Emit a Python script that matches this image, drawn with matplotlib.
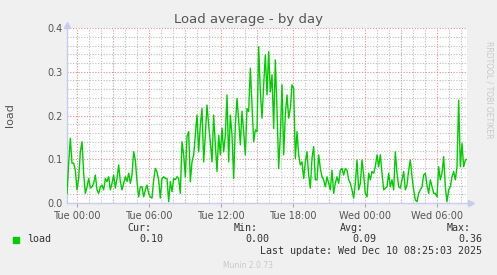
import numpy as np
import pandas as pd
import matplotlib
matplotlib.use("Agg")
import matplotlib.pyplot as plt
import matplotlib.dates as mdates

# load average, one reading every 500 s, Mon 23:10 -> Wed 08:30
load = [
    0.022, 0.09, 0.148, 0.091, 0.091, 0.075, 0.03, 0.056, 0.117, 0.14,
    0.068, 0.022, 0.037, 0.056, 0.034, 0.037, 0.045, 0.064, 0.03, 0.022,
    0.037, 0.041, 0.03, 0.056, 0.049, 0.06, 0.03, 0.045, 0.064, 0.034,
    0.056, 0.087, 0.049, 0.03, 0.045, 0.06, 0.049, 0.068, 0.045, 0.064,
    0.117, 0.098, 0.049, 0.014, 0.037, 0.037, 0.014, 0.03, 0.041, 0.022,
    0.014, 0.011, 0.053, 0.079, 0.071, 0.053, 0.011, 0.056, 0.06,
    # Tue ~07:20
    0.056, 0.056, 0.003, 0.049, 0.026, 0.056, 0.053, 0.06, 0.056, 0.022,
    0.14, 0.11, 0.06, 0.152, 0.163, 0.049, 0.094, 0.11, 0.155, 0.201,
    0.117, 0.178, 0.216, 0.094, 0.155, 0.224, 0.178, 0.14, 0.094, 0.201,
    0.133, 0.072, 0.155, 0.11, 0.171, 0.117, 0.155, 0.247, 0.094, 0.201,
    0.155, 0.056, 0.178, 0.239,
    # Tue ~13:50
    0.19, 0.133, 0.21, 0.163, 0.11, 0.216, 0.209, 0.308, 0.224, 0.14,
    0.167, 0.163, 0.357, 0.254, 0.194, 0.27, 0.338, 0.247, 0.346, 0.254,
    0.293, 0.17, 0.327, 0.216, 0.079, 0.155, 0.27, 0.11, 0.201, 0.247,
    0.194, 0.216, 0.27, 0.262, 0.102, 0.163, 0.11, 0.087, 0.094, 0.056,
    0.094, 0.117, 0.064, 0.034, 0.102,
    # Tue ~20:05
    0.129, 0.053, 0.053, 0.11, 0.079, 0.06, 0.053, 0.037, 0.06, 0.045,
    0.03, 0.075, 0.022, 0.045, 0.06, 0.045, 0.075, 0.079, 0.064, 0.079,
    0.075, 0.053, 0.045, 0.03, 0.011, 0.045, 0.098, 0.03, 0.045, 0.098,
    0.064, 0.022, 0.014, 0.068, 0.053, 0.072, 0.068, 0.083, 0.11, 0.083,
    0.11, 0.068, 0.03, 0.034, 0.037,
    # Wed ~02:20
    0.068, 0.037, 0.053, 0.03, 0.117, 0.068, 0.037, 0.034, 0.053, 0.072,
    0.03, 0.041, 0.075, 0.098, 0.06, 0.03, 0.007, 0.003, 0.022, 0.03,
    0.037, 0.064, 0.068, 0.041, 0.022, 0.053, 0.037, 0.022, 0.022, 0.014,
    0.083, 0.053, 0.068, 0.106, 0.037, 0.003, 0.03, 0.037, 0.06, 0.072,
    0.053, 0.083, 0.235, 0.083, 0.136, 0.083, 0.098, 0.1,
]
start = "2025-12-08 23:10"
step = "500s"

stat_names = ["Cur:", "Min:", "Avg:", "Max:"]
stat_vals = ["0.10", "0.00", "0.09", "0.36"]
last_update = "Last update: Wed Dec 10 08:25:03 2025"

times = pd.date_range(start, periods=len(load), freq=step)

bg = "#f0f0f0"
txt = "#555555"
axcol = "#c8ccf0"

fig = plt.figure(figsize=(4.97, 2.75), dpi=100, facecolor=bg)
ax = fig.add_axes([67 / 497, 72 / 275, 400 / 497, 175 / 275])
ax.set_facecolor("white")

ax.plot(times, load, color="#00cc00", lw=1.0, zorder=3)

ax.set_xlim(times[0], times[-1])
ax.set_ylim(0, 0.4)

# grid: grey minor, red major
ax.xaxis.set_major_locator(mdates.HourLocator(byhour=[0, 6, 12, 18]))
ax.xaxis.set_major_formatter(mdates.DateFormatter("%a %H:%M"))
ax.xaxis.set_minor_locator(mdates.HourLocator())
ax.set_yticks(np.arange(0, 0.41, 0.1))
ax.set_yticks(np.arange(0, 0.41, 0.02), minor=True)
ax.yaxis.set_major_formatter(plt.FormatStrFormatter("%.1f"))

ax.grid(which="minor", color="#bdbdbd", ls=(0, (1, 1.5)), lw=0.8)
for t in mdates.drange(pd.Timestamp("2025-12-09 00:00").to_pydatetime(),
                       pd.Timestamp("2025-12-10 09:00").to_pydatetime(),
                       pd.Timedelta(hours=3).to_pytimedelta()):
    ax.axvline(t, color="#e89090", ls=(0, (1, 1.5)), lw=0.8, zorder=1)
for v in np.arange(0.1, 0.41, 0.1):
    ax.axhline(v, color="#e89090", ls=(0, (1, 1.5)), lw=0.8, zorder=1)

ax.tick_params(which="both", colors=txt, labelsize=7, length=0, pad=3)
ax.tick_params(axis="x", which="major", length=3, color="#aaaaaa", direction="out")
for s in ["top", "right"]:
    ax.spines[s].set_visible(False)
for s in ["left", "bottom"]:
    ax.spines[s].set_color(axcol)
    ax.spines[s].set_linewidth(1)

# axis arrows
ax.plot([0], [1.02], marker="^", color=axcol, ms=4, transform=ax.transAxes, clip_on=False)
ax.plot([1.01], [0], marker=">", color=axcol, ms=4, transform=ax.transAxes, clip_on=False)

fig.text(0.5, 1 - 19 / 275, "Load average - by day", ha="center", va="center",
         fontsize=9.5, color=txt)
fig.text(10 / 497, 1 - 115 / 275, "load", rotation=90, ha="center", va="center",
         fontsize=8, color=txt)
fig.text(489 / 497, 1 - 90 / 275, "RRDTOOL / TOBI OETIKER", rotation=270, ha="center",
         va="center", fontsize=5.5, color="#c8c8c8")

mono = "DejaVu Sans Mono"
fig.patches.append(plt.Rectangle((13 / 497, 1 - 243 / 275), 6 / 497, 6 / 275,
                                 transform=fig.transFigure, color="#00cc00"))
fig.text(27 / 497, 1 - 239 / 275, "load", family=mono, fontsize=7.2, color="#333333",
         va="center")
for i, (n, v) in enumerate(zip(stat_names, stat_vals)):
    xr = (163 + i * 106.5) / 497
    fig.text(xr - 12 / 497, 1 - 228 / 275, n, family=mono, fontsize=7.2, color="#333333",
             ha="right", va="center")
    fig.text(xr, 1 - 239 / 275, v, family=mono, fontsize=7.2, color="#333333",
             ha="right", va="center")
fig.text(482 / 497, 1 - 251 / 275, last_update, family=mono, fontsize=7.2, color="#333333",
         ha="right", va="center")
fig.text(248 / 497, 1 - 265 / 275, "Munin 2.0.73", fontsize=5.5, color="#c8c8c8",
         ha="center", va="center")

fig.savefig("out.png", dpi=100, facecolor=bg)
